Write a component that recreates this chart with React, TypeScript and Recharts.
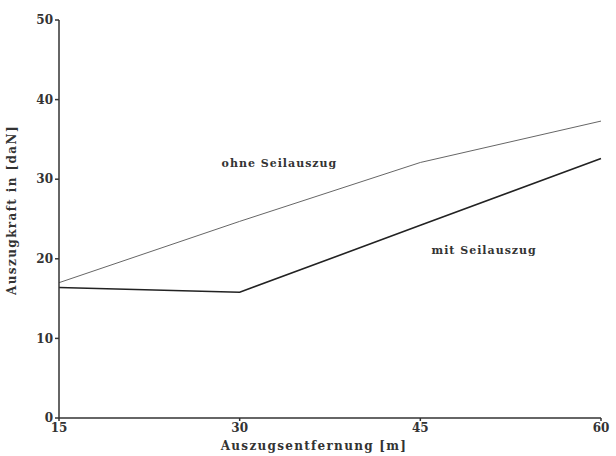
import { LineChart, Line, XAxis, YAxis, ReferenceDot } from "recharts"

const distances = [15, 30, 45, 60]
const ohneSeilauszug = [17.0, 24.7, 32.1, 37.3]
const mitSeilauszug = [16.4, 15.8, 24.2, 32.6]
const yTicks = [0, 10, 20, 30, 40, 50]

const data = distances.map((d, i) => ({
  x: d,
  ohne: ohneSeilauszug[i],
  mit: mitSeilauszug[i],
}))

const FONT = "'DejaVu Serif', 'Liberation Serif', serif"
const INK = "#333"

export default function App() {
  return (
    <div style={{ position: "absolute", left: 0, top: 0, background: "#fff" }}>
      <LineChart width={616} height={456} data={data} margin={{ top: 20, right: 15, bottom: 8, left: 0 }}>
        <XAxis
          dataKey="x"
          type="number"
          domain={[15, 60]}
          ticks={distances}
          height={30}
          stroke={INK}
          strokeWidth={1.5}
          tickSize={3}
          tick={{ fill: INK, fontFamily: FONT, fontWeight: "bold", fontSize: 12 }}
          label={{
            value: "Auszugsentfernung [m]",
            position: "insideBottom",
            offset: -2,
            dx: -16,
            fill: INK,
            fontFamily: FONT,
            fontWeight: "bold",
            fontSize: 12,
            letterSpacing: 1.3,
          }}
        />
        <YAxis
          type="number"
          domain={[0, 50]}
          ticks={yTicks}
          width={59}
          stroke={INK}
          strokeWidth={1.5}
          tickSize={4}
          tick={{ fill: INK, fontFamily: FONT, fontWeight: "bold", fontSize: 12 }}
          label={{
            value: "Auszugkraft in [daN]",
            angle: -90,
            position: "insideLeft",
            offset: 8,
            dx: 4,
            dy: -9,
            style: { textAnchor: "middle" },
            fill: INK,
            fontFamily: FONT,
            fontWeight: "bold",
            fontSize: 12,
            letterSpacing: 1.4,
          }}
        />
        <Line
          type="linear"
          dataKey="ohne"
          stroke="#666"
          strokeWidth={1}
          dot={false}
          isAnimationActive={false}
        />
        <Line
          type="linear"
          dataKey="mit"
          stroke="#222"
          strokeWidth={1.6}
          dot={false}
          isAnimationActive={false}
        />
        <ReferenceDot
          x={33.3}
          y={32}
          r={0}
          stroke="none"
          label={{ value: "ohne Seilauszug", position: "center", fill: INK, fontFamily: FONT, fontWeight: "bold", fontSize: 11, letterSpacing: 1 }}
        />
        <ReferenceDot
          x={50.3}
          y={21.1}
          r={0}
          stroke="none"
          label={{ value: "mit Seilauszug", position: "center", fill: INK, fontFamily: FONT, fontWeight: "bold", fontSize: 11, letterSpacing: 1 }}
        />
      </LineChart>
    </div>
  )
}
